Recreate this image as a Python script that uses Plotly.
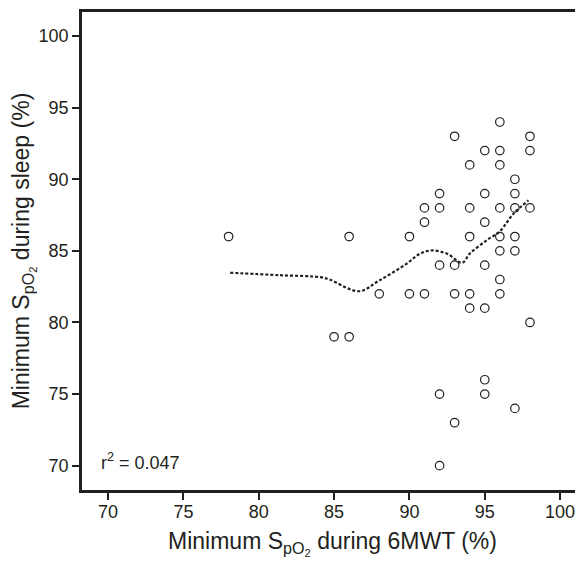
import plotly.graph_objects as go

# minimum SpO2 during 6MWT (x) vs during sleep (y)
walk_spo2 = [78, 85, 86, 86, 88, 90, 90, 91, 91, 91,
             92, 92, 92, 92, 92, 93, 93, 93, 93,
             94, 94, 94, 94, 94, 95, 95, 95, 95, 95, 95, 95,
             96, 96, 96, 96, 96, 96, 96, 96,
             97, 97, 97, 97, 97, 97, 98, 98, 98, 98]
sleep_spo2 = [86, 79, 79, 86, 82, 86, 82, 88, 87, 82,
              89, 88, 84, 75, 70, 93, 84, 82, 73,
              91, 88, 86, 82, 81, 92, 89, 87, 84, 81, 76, 75,
              94, 92, 91, 88, 86, 85, 83, 82,
              90, 89, 88, 86, 85, 74, 93, 92, 88, 80]

# loess fit
fit_x = [78.1, 81.4, 84.1, 84.7, 86.65, 88.0, 89.8, 90.7, 91.5, 92.5, 93.5,
         94.0, 95.1, 96.0, 96.9, 97.9]
fit_y = [83.47, 83.3, 83.16, 83.0, 82.18, 82.93, 84.09, 84.8, 85.03, 84.8,
         84.17, 84.8, 85.72, 86.37, 87.59, 88.52]

font = "Liberation Sans, Arial, sans-serif"
ink = "#231f20"

fig = go.Figure()
fig.add_trace(go.Scatter(x=fit_x, y=fit_y, mode="lines",
                         line=dict(color=ink, width=2.2, dash="3px,2px", shape="spline"),
                         hoverinfo="skip"))
fig.add_trace(go.Scatter(x=walk_spo2, y=sleep_spo2, mode="markers",
                         marker=dict(symbol="circle-open", size=8.5, color=ink,
                                     line=dict(width=1.2, color=ink))))

fig.add_annotation(x=69.4, y=70.3, xref="x", yref="y", text="r<sup>2</sup> = 0.047",
                   showarrow=False, xanchor="left", yanchor="middle",
                   font=dict(family=font, size=18, color=ink))

# page body has an 8px margin, so the figure is trimmed by that much
fig.update_layout(
    width=575, height=553,
    margin=dict(l=74, r=0, t=4, b=71),
    paper_bgcolor="white", plot_bgcolor="white",
    showlegend=False,
    font=dict(family=font, color=ink),
    xaxis=dict(range=[68.27, 101.52], tickvals=[70, 75, 80, 85, 90, 95, 100],
               showgrid=False, zeroline=False, showline=True, linecolor=ink,
               linewidth=2.5, mirror=True, ticks="outside", ticklen=7, tickwidth=2,
               tickcolor=ink, tickfont=dict(size=18, family=font, color=ink),
               ticklabelstandoff=-3,
               title=dict(text="Minimum S<sub>pO<sub>2</sub></sub> during 6MWT (%)",
                          font=dict(size=23, family=font, color=ink), standoff=12)),
    yaxis=dict(range=[68.3, 101.68], tickvals=[70, 75, 80, 85, 90, 95, 100],
               showgrid=False, zeroline=False, showline=True, linecolor=ink,
               linewidth=2.5, ticks="outside", ticklen=7, tickwidth=2,
               tickcolor=ink, tickfont=dict(size=18, family=font, color=ink),
               title=dict(text="Minimum S<sub>pO<sub>2</sub></sub> during sleep (%)",
                          font=dict(size=23, family=font, color=ink), standoff=12)),
)

fig.write_html("out.html")
